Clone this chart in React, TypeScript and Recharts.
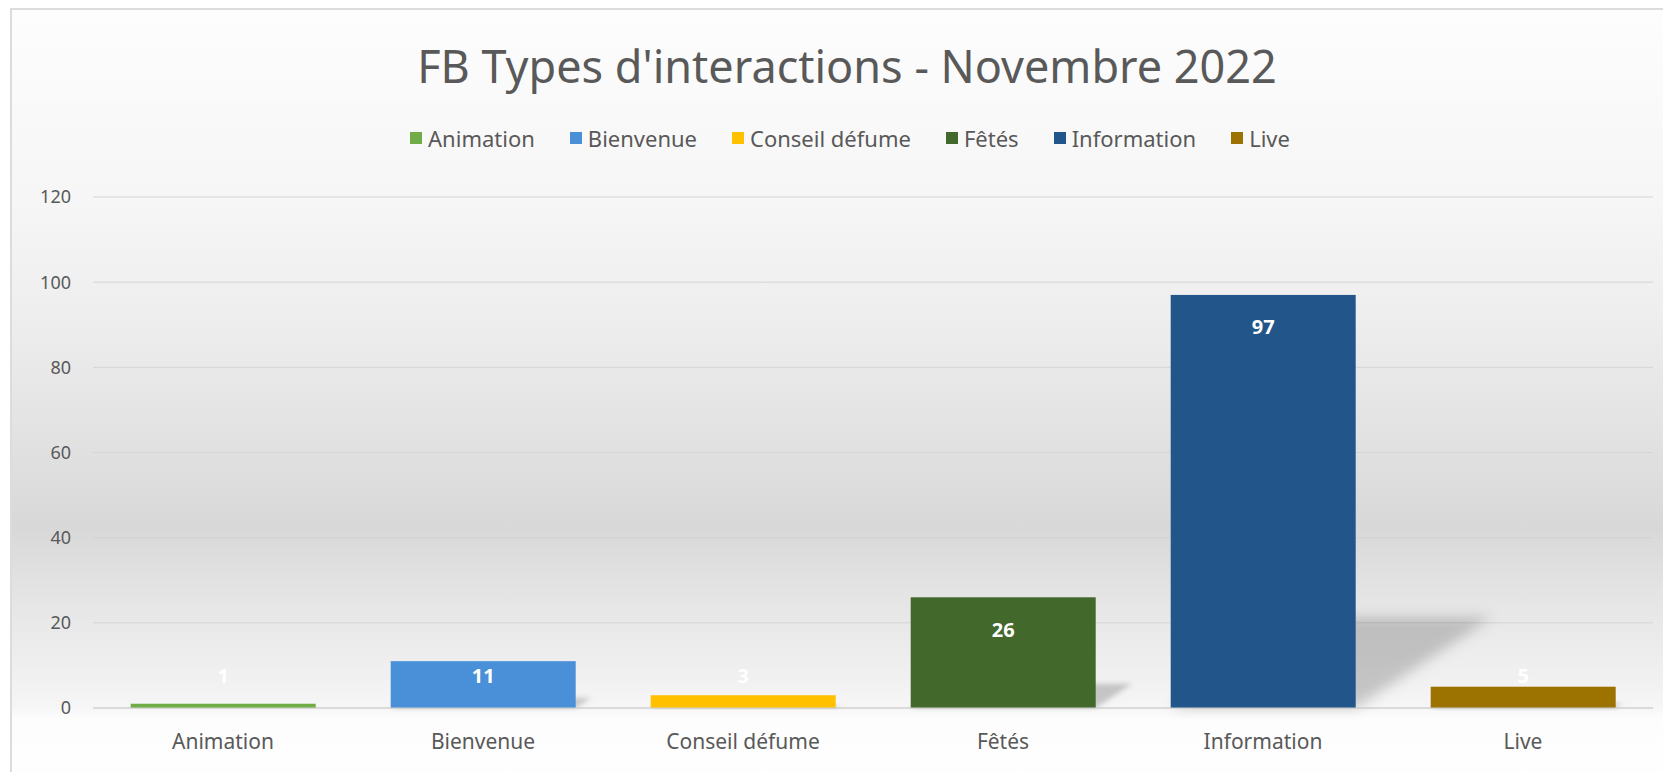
import { BarChart, Bar, XAxis, YAxis, CartesianGrid, Cell, LabelList, Legend } from 'recharts';

const categories = ['Animation', 'Bienvenue', 'Conseil défume', 'Fêtés', 'Information', 'Live'];
const values = [1, 11, 3, 26, 97, 5];
const colors = ['#70AD47', '#4A90D9', '#FFC000', '#43682B', '#22568A', '#9C7200'];
const yTicks = [0, 20, 40, 60, 80, 100, 120];
const title = "FB Types d'interactions - Novembre 2022";

const data = categories.map((name, i) => ({ name, value: values[i] }));

const W = 1663;
const H = 772;
const FONT = '"Noto Sans", "Open Sans", sans-serif';
const GREY = '#595959';

// bar + soft perspective shadow falling to the upper right (like Excel's)
const BarWithShadow = (props: any) => {
  const { x, y, width, height, index } = props;
  if (!height) return null;
  const base = y + height;
  const h = height * 0.22;
  const dx = h * 1.5;
  const fid = `shadow-${index}`;
  return (
    <g>
      <defs>
        <filter id={fid} x="-50%" y="-50%" width="200%" height="200%">
          <feGaussianBlur stdDeviation={Math.max(2.5, h * 0.07)} />
        </filter>
      </defs>
      <polygon
        points={`${x},${base} ${x + width},${base} ${x + width + dx},${base - h} ${x + dx},${base - h}`}
        fill="#000"
        fillOpacity={0.19}
        filter={`url(#${fid})`}
      />
      <rect x={x} y={y} width={width} height={height} fill={colors[index]} />
    </g>
  );
};

const renderLabel = (props: any) => {
  const { x, y, width, height, value } = props;
  const base = y + height;
  const ty = Math.min(y + 32, base - 33);
  return (
    <text
      x={x + width / 2}
      y={ty}
      textAnchor="middle"
      dominantBaseline="central"
      fill="#ffffff"
      fontFamily={FONT}
      fontWeight={700}
      fontSize={20}
    >
      {value}
    </text>
  );
};

const renderLegend = () => (
  <div
    style={{
      display: 'flex',
      justifyContent: 'center',
      alignItems: 'center',
      gap: 35,
      height: 30,
      fontFamily: FONT,
      fontSize: 22,
      color: GREY,
    }}
  >
    {categories.map((c, i) => (
      <span key={c} style={{ display: 'flex', alignItems: 'center' }}>
        <span style={{ width: 12, height: 12, background: colors[i], marginRight: 6, display: 'inline-block' }} />
        {c}
      </span>
    ))}
  </div>
);

export default function App() {
  return (
    <div style={{ position: 'absolute', left: 0, top: 0, width: W, height: H, background: '#ffffff', overflow: 'hidden' }}>
      <div
        style={{
          position: 'absolute',
          left: 10,
          top: 8,
          width: W - 10,
          height: H - 8,
          borderLeft: '2px solid #dcdcdc',
          borderTop: '2px solid #dcdcdc',
          boxSizing: 'border-box',
          background:
            'linear-gradient(to bottom, #fdfdfd 0%, #f6f6f6 25%, #eeeeee 40%, #e2e2e2 56%, #d8d8d8 68%, #e6e6e6 78%, #f1f1f1 88%, #f6f6f6 91.5%, #fdfdfd 93%, #fefefe 100%)',
        }}
      />
      <div
        style={{
          position: 'absolute',
          left: 31,
          top: 40,
          width: 1632,
          lineHeight: '52px',
          textAlign: 'center',
          fontFamily: FONT,
          fontSize: 45,
          color: GREY,
        }}
      >
        {title}
      </div>
      <div style={{ position: 'absolute', left: 0, top: 0 }}>
        <BarChart
          width={W}
          height={H}
          data={data}
          margin={{ top: 197, right: 10, bottom: 34, left: 10 }}
          barCategoryGap="14.5%"
        >
          <CartesianGrid vertical={false} stroke="#d4d4d4" />
          <XAxis
            dataKey="name"
            interval={0}
            tickLine={false}
            tickSize={0}
            tickMargin={26}
            height={30}
            axisLine={{ stroke: '#d0d0d0' }}
            tick={{ fill: GREY, fontSize: 21, fontFamily: FONT }}
          />
          <YAxis
            domain={[0, 120]}
            ticks={yTicks}
            width={83}
            axisLine={false}
            tickLine={false}
            tickSize={0}
            tickMargin={22}
            tick={{ fill: GREY, fontSize: 18, fontFamily: FONT }}
          />
          <Legend
            layout="horizontal"
            verticalAlign="middle"
            align="center"
            content={renderLegend}
            wrapperStyle={{ top: 123, left: 40, width: 1620 }}
          />
          <Bar dataKey="value" shape={BarWithShadow} isAnimationActive={false}>
            {data.map((d, i) => (
              <Cell key={d.name} fill={colors[i]} />
            ))}
            <LabelList dataKey="value" content={renderLabel} />
          </Bar>
        </BarChart>
      </div>
    </div>
  );
}
